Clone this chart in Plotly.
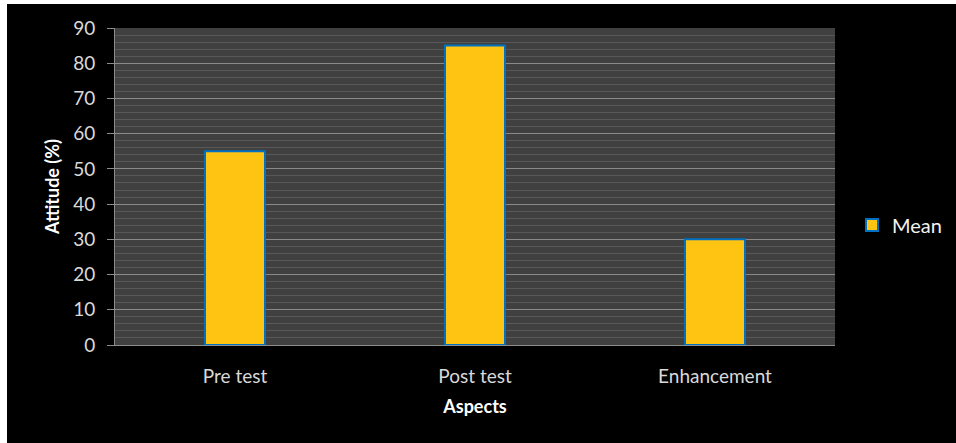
import plotly.graph_objects as go

# Attitude scores by test stage
aspects = ["Pre test", "Post test", "Enhancement"]
mean_values = [55, 85, 30]
y_ticks = [0, 10, 20, 30, 40, 50, 60, 70, 80, 90]

W, H = 956, 443
L, R, T, B = 115, 121, 28, 98
pw, ph = W - L - R, H - T - B


def px_x(p):
    return (p - L) / pw


def px_y(p):
    return (H - B - p) / ph


FONT = "Lato, 'Open Sans', sans-serif"

fig = go.Figure()
fig.add_trace(go.Bar(
    x=aspects,
    y=mean_values,
    name="Mean",
    width=0.25,
    marker=dict(color="#FFC312", line=dict(color="#0070C0", width=2)),
))

axis_font = dict(family=FONT, size=19, color="#D9D9D9")
title_font = dict(family=FONT, size=18, color="#FFFFFF")

fig.update_layout(
    width=W,
    height=H,
    margin=dict(l=L, r=R, t=T, b=B, autoexpand=False),
    paper_bgcolor="#FFFFFF",
    plot_bgcolor="rgba(0,0,0,0)",
    font=axis_font,
    showlegend=True,
    legend=dict(
        x=px_x(852), y=px_y(225), xanchor="left", yanchor="middle",
        font=dict(family=FONT, size=20, color="#F2F2F2"),
        bgcolor="rgba(0,0,0,0)",
        itemwidth=30,
    ),
    shapes=[
        # black chart area, leaving a thin white edge at left and top
        dict(type="rect", xref="paper", yref="paper", layer="below",
             x0=px_x(7), x1=px_x(W + 5), y0=px_y(H + 5), y1=px_y(4),
             fillcolor="#000000", line=dict(width=0)),
        # dark plot area
        dict(type="rect", xref="paper", yref="paper", layer="below",
             x0=0, x1=1, y0=0, y1=1,
             fillcolor="#404040", line=dict(width=0)),
    ],
    xaxis=dict(
        showgrid=False,
        showline=True, linecolor="#8C8C8C", linewidth=1,
        ticks="", tickfont=axis_font,
        ticklabelstandoff=14,
        title=dict(text="<b>Aspects</b>", font=title_font, standoff=14),
    ),
    yaxis=dict(
        range=[0, 90],
        tickvals=y_ticks,
        showgrid=True, gridcolor="#8A8A8A", gridwidth=1,
        minor=dict(dtick=2, showgrid=True, gridcolor="#585858", gridwidth=1),
        showline=True, linecolor="#8C8C8C", linewidth=1,
        ticks="outside", ticklen=7, tickcolor="#8C8C8C",
        tickfont=axis_font,
        ticklabelstandoff=8,
        zeroline=False,
        title=dict(text="<b>Attitude (%)</b>", font=title_font, standoff=8),
    ),
)

fig.write_html("out.html")
